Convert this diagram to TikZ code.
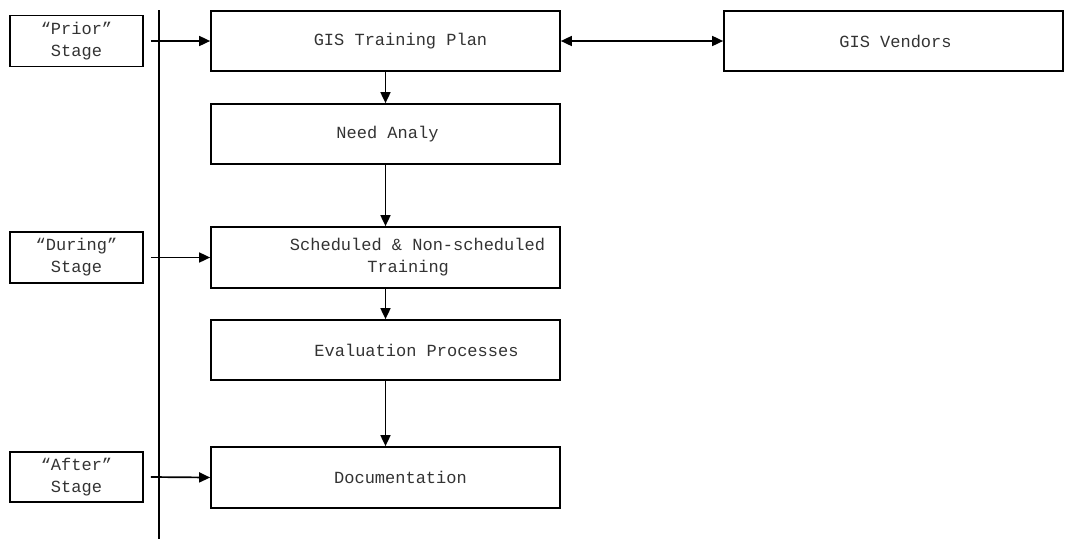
\documentclass[tikz,border=0pt]{standalone}
\usepackage{fontspec}
\setmonofont{Liberation Mono}
\usetikzlibrary{arrows.meta}
\begin{document}
\begin{tikzpicture}[x=1pt,y=-1pt,
  txt/.style={font=\ttfamily\fontsize{17}{22}\selectfont, text=black!80},
  stagebox/.style={draw, line width=1.7pt, minimum width=133pt, minimum height=51pt, inner sep=0pt, txt, align=center},
  procbox/.style={draw, line width=1.7pt, minimum width=349pt, minimum height=60pt, inner sep=0pt},
  lbl/.style={txt, align=center},
  arr/.style={line width=1.7pt, -{Triangle[length=11pt,width=10pt]}},
  darr/.style={line width=1.7pt, {Triangle[length=11pt,width=10pt]}-{Triangle[length=11pt,width=10pt]}}
]
\useasboundingbox (0,0) rectangle (1069,539);
% timeline
\coordinate (ltop) at (159,10);
\coordinate (lbot) at (159,539);
\draw[line width=1.7pt] (ltop) -- (lbot);
% stage boxes
\node[stagebox] (prior) at (76.5,41) {“Prior”\\Stage};
\node[stagebox] (during) at (76.5,257.5) {“During”\\Stage};
\node[stagebox, minimum height=50pt] (after) at (76.5,477) {“After”\\Stage};
% process boxes
\node[procbox, label={[lbl, xshift=15pt]center:GIS Training Plan}] (plan) at (385.5,41) {};
\node[procbox, label={[lbl, xshift=2pt]center:Need Analy}] (need) at (385.5,134) {};
\node[procbox, minimum height=61pt, label={[lbl, xshift=32pt]center:Scheduled \& Non-scheduled\\Training\hspace*{1.1em}}] (sched) at (385.5,257.5) {};
\node[procbox, label={[lbl, xshift=31pt]center:Evaluation Processes}] (eval) at (385.5,350) {};
\node[procbox, minimum height=61pt, label={[lbl, xshift=15pt]center:Documentation}] (doc) at (385.5,477.5) {};
\node[procbox, minimum width=339pt, label={[lbl, xshift=2pt]center:GIS Vendors}] (vend) at (893.5,41) {};
% stage arrows
\draw[arr] ([xshift=7pt]prior.east) -- (plan.west);
\draw[arr] ([xshift=7pt]during.east) -- (sched.west);
\draw[arr] ([xshift=7pt]after.east) -- (doc.west);
% flow arrows
\draw[arr] (plan) -- (need);
\draw[arr] (need) -- (sched);
\draw[arr] (sched) -- (eval);
\draw[arr] (eval) -- (doc);
\draw[darr] (plan) -- (vend);
\end{tikzpicture}
\end{document}
